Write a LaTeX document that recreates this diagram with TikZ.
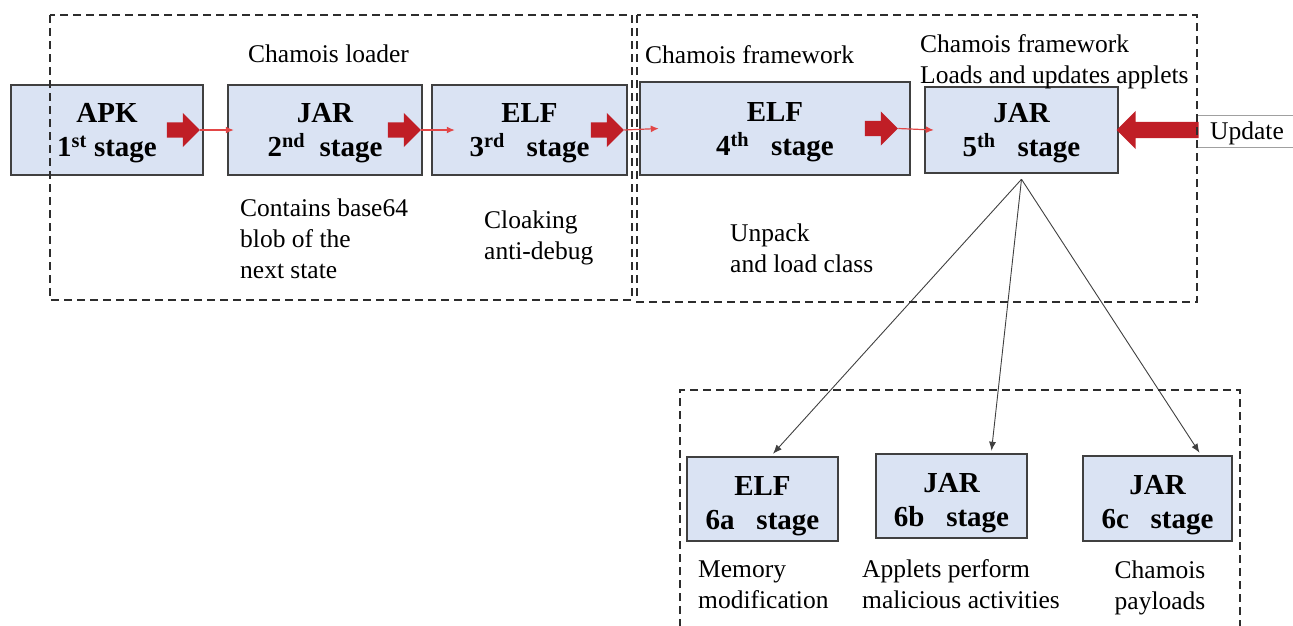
\documentclass[tikz,border=0pt]{standalone}
\usepackage{fontspec}
\setmainfont{Liberation Serif}
\usetikzlibrary{arrows.meta,shapes.arrows,positioning}
\definecolor{boxfill}{RGB}{218,227,243}
\definecolor{boxline}{RGB}{64,64,64}
\definecolor{arrowred}{RGB}{192,30,38}
\definecolor{linered}{RGB}{226,70,70}
\definecolor{dashgray}{RGB}{45,45,45}
\definecolor{updline}{RGB}{160,160,160}

\begin{document}
\begin{tikzpicture}[x=1pt,y=-1pt,
  stagebox/.style={draw=boxline,line width=2.5pt,fill=boxfill,inner sep=0pt,align=center,
    font=\bfseries\fontsize{29}{34}\selectfont,execute at begin node={\rule{0pt}{60pt}}},
  appletbox/.style={stagebox,execute at begin node={\rule{0pt}{67pt}}},
  note/.style={inner sep=0pt,align=left,anchor=north west,font=\fontsize{25.5}{31}\selectfont},
  redarrow/.style={single arrow,fill=arrowred,draw=none,inner sep=7.5pt,minimum width=34pt,
    minimum height=33pt,single arrow head extend=9.5pt,anchor=tip},
  thinred/.style={draw=linered,line width=1.2pt,-{Latex[length=8pt,width=7pt]}},
  group/.style={draw=dashgray,line width=1.5pt,dash pattern=on 8pt off 5pt},
  fork/.style={draw=boxline,line width=0.9pt,-{Latex[length=9pt,width=7pt]}}]
\useasboundingbox (0,0) rectangle (1293,625);

% stage boxes
\node[stagebox,minimum width=192pt,minimum height=90pt] (apk) at (107,130) {APK\\1\textsuperscript{st} stage};
\node[stagebox,minimum width=194pt,minimum height=90pt] (jar2) at (325,130) {JAR\\2\textsuperscript{nd}\ \ stage};
\node[stagebox,minimum width=195pt,minimum height=90pt] (elf3) at (529.5,130) {ELF\\3\textsuperscript{rd}\ \ \ stage};
\node[stagebox,minimum width=270pt,minimum height=93pt] (elf4) at (775,128.5) {ELF\\4\textsuperscript{th}\ \ \ stage};
\node[stagebox,minimum width=193pt,minimum height=86pt] (jar5) at (1021.5,130) {JAR\\5\textsuperscript{th}\ \ \ stage};
\node[appletbox,minimum width=151pt,minimum height=84pt] (s6a) at (762.5,499) {ELF\\6a\ \ \ stage};
\node[appletbox,minimum width=151pt,minimum height=84pt] (s6b) at (951.5,496) {JAR\\6b\ \ \ stage};
\node[appletbox,minimum width=149pt,minimum height=85pt] (s6c) at (1157.5,498.5) {JAR\\6c\ \ \ stage};

% red arrows between stages
\node[redarrow] (ra1) at ([xshift=-4pt]apk.east) {};
\node[redarrow] (ra2) at ([xshift=-2pt]jar2.east) {};
\node[redarrow] (ra3) at ([xshift=-4pt]elf3.east) {};
\node[redarrow] (ra4) at ([xshift=-13pt]elf4.east) {};
\draw[thinred] (ra1.tip) -- ([xshift=7pt]jar2.west);
\draw[thinred] (ra2.tip) -- ([xshift=24pt]elf3.west);
\draw[thinred] (ra3.tip) -- ([xshift=20pt]elf4.west);
\draw[thinred] (ra4.tip) -- ([xshift=10pt]jar5.west);

% update input
\node[note] (upd) at (1210,122) {Update};
\draw[updline,line width=1pt] (1197,115) -- (1293,115) (1197,147) -- (1293,147);
\node[redarrow,shape border rotate=180,minimum height=82pt,minimum width=38pt,inner sep=8pt,
  single arrow head extend=11pt] (ua) at ([xshift=-3pt]jar5.east) {};

% applets
\coordinate (split) at ([yshift=-5pt]jar5.south);
\draw[fork] (split) -- ([xshift=10.5pt,yshift=2pt]s6a.north);
\draw[fork] (split) -- ([xshift=40pt,yshift=2pt]s6b.north);
\draw[fork] (split) -- ([xshift=42pt,yshift=2pt]s6c.north);

% group frames
\draw[group] (50,15) rectangle (632,300);
\draw[group] (637,15) rectangle (1197,302);
\draw[group] (680,640) -- (680,390) -- (1240,390) -- (1240,640);

% titles and notes
\node[note] (t1) at (248,45) {Chamois loader};
\node[note] (t2) at (645,45) {Chamois framework};
\node[note] (t3) at (920,34) {Chamois framework\\Loads and updates applets};
\node[note] (n2) at (240,199) {Contains base64\\blob of the\\next state};
\node[note] (n3) at (484,211) {Cloaking\\anti-debug};
\node[note] (n4) at (730,224) {Unpack\\and load class};
\node[note] (n6a) at (698,561) {Memory\\modification};
\node[note] (n6b) at (862,559) {Applets perform\\malicious activities};
\node[note,align=center,anchor=north] (n6c) at (1160,561) {Chamois\\payloads};
\end{tikzpicture}
\end{document}
